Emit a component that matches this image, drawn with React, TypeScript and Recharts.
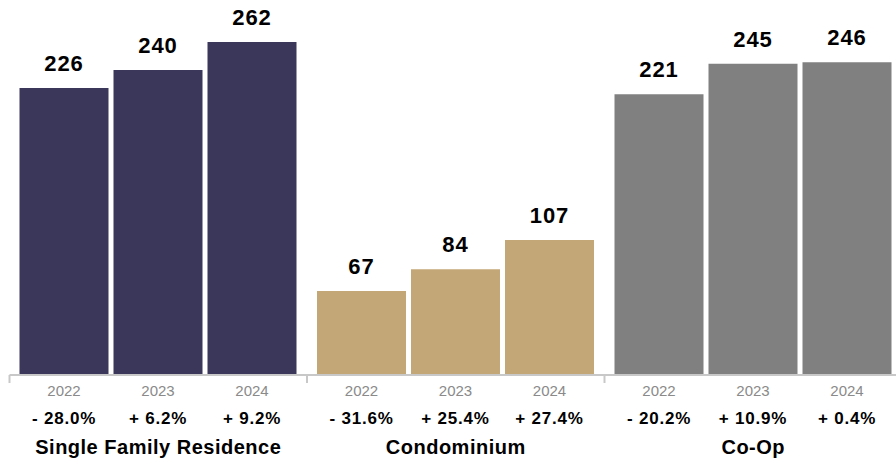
import React from 'react';
import { BarChart, Bar, XAxis, YAxis, Cell, LabelList } from 'recharts';

const categories = ['Single Family Residence', 'Condominium', 'Co-Op'];
const years = ['2022', '2023', '2024'];
const values2022 = [226, 67, 221];
const values2023 = [240, 84, 245];
const values2024 = [262, 107, 246];
const change2022 = ['- 28.0%', '- 31.6%', '- 20.2%'];
const change2023 = ['+ 6.2%', '+ 25.4%', '+ 10.9%'];
const change2024 = ['+ 9.2%', '+ 27.4%', '+ 0.4%'];
const colors = ['#3b375a', '#c3a776', '#808080'];

const FONT = '"Liberation Sans", Arial, Helvetica, sans-serif';

const CHART_W = 902;
const CHART_H = 462;
const MARGIN = { top: 10, right: 0, bottom: 0, left: 9.5 };
const PLOT_W = CHART_W - MARGIN.left - MARGIN.right;
const BAND = PLOT_W / categories.length;

const data = categories.map((c, i) => ({
  category: c,
  v2022: values2022[i],
  v2023: values2023[i],
  v2024: values2024[i],
  c2022: change2022[i],
  c2023: change2023[i],
  c2024: change2024[i],
}));

const geom = (props: any) => {
  const vb = props.viewBox || {};
  const x = props.x ?? vb.x;
  const y = props.y ?? vb.y;
  const width = props.width ?? vb.width;
  const height = props.height ?? vb.height;
  return { x: Number(x), y: Number(y), width: Number(width), height: Number(height) };
};

const ValueLabel = (props: any) => {
  const { x, y, width } = geom(props);
  return (
    <text
      x={x + width / 2}
      y={y - 17}
      textAnchor="middle"
      fontFamily={FONT}
      fontWeight="bold"
      fontSize={22}
      letterSpacing={1}
      fill="#000"
    >
      {props.value}
    </text>
  );
};

const makeBelowLabel = (year: string) => (props: any) => {
  const { x, y, width, height } = geom(props);
  const bottom = y + height;
  const cx = x + width / 2;
  return (
    <g>
      <text x={cx} y={bottom + 21} textAnchor="middle" fontFamily={FONT} fontSize={15} fill="#8a8a8a">
        {year}
      </text>
      <text
        x={cx}
        y={bottom + 49}
        textAnchor="middle"
        fontFamily={FONT}
        fontWeight="bold"
        fontSize={17}
        letterSpacing={0.8}
        fill="#000"
      >
        {props.value}
      </text>
    </g>
  );
};

const CategoryTick = (props: any) => {
  const { x, y, payload, index } = props;
  return (
    <g>
      <line x1={x - BAND / 2} x2={x - BAND / 2} y1={y} y2={y + 8} stroke="#c8c8c8" strokeWidth={2} />
      {index === categories.length - 1 && (
        <line x1={x + BAND / 2} x2={x + BAND / 2} y1={y} y2={y + 8} stroke="#c8c8c8" strokeWidth={2} />
      )}
      <text
        x={x}
        y={y + 79}
        textAnchor="middle"
        fontFamily={FONT}
        fontWeight="bold"
        fontSize={20}
        letterSpacing={0.5}
        fill="#000"
      >
        {payload.value}
      </text>
    </g>
  );
};

const seriesKeys = ['v2022', 'v2023', 'v2024'];
const changeKeys = ['c2022', 'c2023', 'c2024'];

export default function App() {
  return (
    <div style={{ position: 'absolute', left: 0, top: 0, width: 896, height: 462, overflow: 'hidden', background: '#fff' }}>
      <BarChart
        width={CHART_W}
        height={CHART_H}
        data={data}
        margin={MARGIN}
        barSize={89}
        barGap={5}
        barCategoryGap={10}
      >
        <XAxis
          dataKey="category"
          height={87}
          interval={0}
          tickLine={false}
          tickSize={0}
          tickMargin={0}
          axisLine={{ stroke: '#c8c8c8', strokeWidth: 2 }}
          tick={<CategoryTick />}
        />
        <YAxis hide domain={[1.2, 287]} />
        {seriesKeys.map((k, si) => (
          <Bar key={k} dataKey={k} isAnimationActive={false}>
            {data.map((_, i) => (
              <Cell key={i} fill={colors[i]} />
            ))}
            <LabelList dataKey={k} content={<ValueLabel />} />
            <LabelList dataKey={changeKeys[si]} content={makeBelowLabel(years[si])} />
          </Bar>
        ))}
      </BarChart>
    </div>
  );
}
